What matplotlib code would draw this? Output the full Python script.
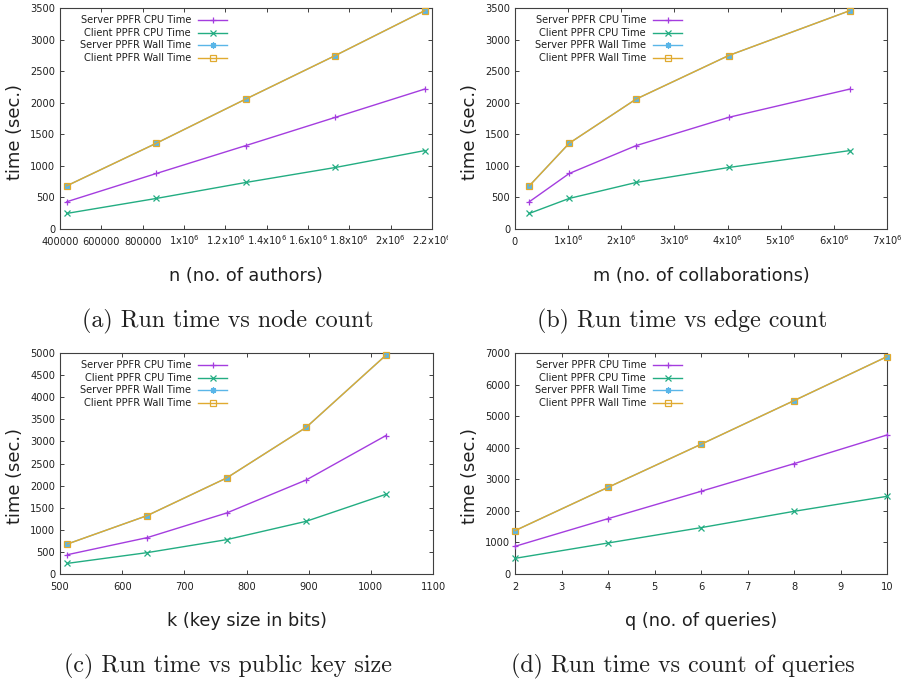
import numpy as np
import matplotlib
matplotlib.use('Agg')
import matplotlib.pyplot as plt
from matplotlib.transforms import Bbox

# ── Measured run times (sec.) ──
n_authors = [433000, 866000, 1299000, 1732000, 2165000]
m_collab = [270000, 1020000, 2280000, 4020000, 6300000]
k_bits = [512, 640, 768, 896, 1024]
q_queries = [2, 4, 6, 8, 10]

# sweeps over n and m share the same runs
srv_cpu_nm = [432, 879, 1321, 1768, 2216]
cli_cpu_nm = [247, 484, 737, 974, 1242]
srv_wall_nm = [684, 1358, 2058, 2747, 3458]
cli_wall_nm = [684, 1358, 2058, 2747, 3458]

srv_cpu_k = [437, 822, 1380, 2127, 3130]
cli_cpu_k = [241, 483, 777, 1192, 1802]
srv_wall_k = [679, 1320, 2172, 3318, 4947]
cli_wall_k = [679, 1320, 2172, 3318, 4947]

srv_cpu_q = [876, 1753, 2619, 3495, 4403]
cli_cpu_q = [496, 982, 1468, 1985, 2460]
srv_wall_q = [1373, 2745, 4108, 5491, 6885]
cli_wall_q = [1373, 2745, 4108, 5491, 6885]

series_names = ['Server PPFR CPU Time', 'Client PPFR CPU Time',
                'Server PPFR Wall Time', 'Client PPFR Wall Time']
colors = ['#a43ddf', '#23ad82', '#5ab6e8', '#e0aa30']
markers = ['+', 'x', (8, 2, 0), 's']

W, H = 905, 682
fig = plt.figure(figsize=(W / 100, H / 100), dpi=100)

def px_axes(l, t, r, b):
    return fig.add_axes([l / W, 1 - b / H, (r - l) / W, (b - t) / H])

def sci(v):
    if v >= 1e6:
        return r'%sx10$^{6}$' % ('%g' % (v / 1e6))
    return '%d' % v

TICK_FS = 7.1
TXT = '#202020'

def marker_kw(c, mk):
    return dict(marker=mk, ms=4.4 if mk != 's' else 3.8, mew=0.9,
                mfc='none' if mk == 's' else c, mec=c)

def draw_panel(ax, x, ys, xticks, xlabels, yticks, xlim, ylim):
    for y, c, mk in zip(ys, colors, markers):
        ax.plot(x, y, color=c, lw=1.0, clip_on=False, zorder=3, **marker_kw(c, mk))
    ax.set_xlim(*xlim)
    ax.set_ylim(*ylim)
    ax.set_xticks(xticks, xlabels)
    ax.set_yticks(yticks)
    ax.tick_params(direction='in', length=3, width=0.7, colors='#404040',
                   labelcolor=TXT, labelsize=TICK_FS, top=True, right=True)
    ax.tick_params(axis='x', pad=11.8)
    ax.tick_params(axis='y', pad=3.4)
    for t in ax.get_xticklabels():
        t.set_va('baseline')
    for s in ax.spines.values():
        s.set_color('#404040')
        s.set_linewidth(0.8)
    # key: right-justified text with sample to its right
    for i, (name, c, mk) in enumerate(zip(series_names, colors, markers)):
        yy = 0.946 - i * 0.0575
        ax.text(0.352, yy, name, transform=ax.transAxes, ha='right', va='center',
                fontsize=TICK_FS, color=TXT)
        ax.plot([0.371, 0.449], [yy, yy], color=c, lw=1.0, transform=ax.transAxes)
        ax.plot([0.41], [yy], color=c, transform=ax.transAxes, **marker_kw(c, mk))

panels = [
    (60, 8, 432, 229, n_authors, [srv_cpu_nm, cli_cpu_nm, srv_wall_nm, cli_wall_nm],
     np.arange(400000, 2200001, 200000), (400000, 2200000),
     np.arange(0, 3501, 500), (0, 3500),
     'n (no. of authors)', '(a) Run time vs node count', 0),
    (515, 8, 887, 229, m_collab, [srv_cpu_nm, cli_cpu_nm, srv_wall_nm, cli_wall_nm],
     np.arange(0, 7000001, 1000000), (0, 7000000),
     np.arange(0, 3501, 500), (0, 3500),
     'm (no. of collaborations)', '(b) Run time vs edge count', 455),
    (60, 353, 433, 574, k_bits, [srv_cpu_k, cli_cpu_k, srv_wall_k, cli_wall_k],
     np.arange(500, 1101, 100), (500, 1100),
     np.arange(0, 5001, 500), (0, 5000),
     'k (key size in bits)', '(c) Run time vs public key size', 0),
    (515, 353, 887, 574, q_queries, [srv_cpu_q, cli_cpu_q, srv_wall_q, cli_wall_q],
     np.arange(2, 11, 1), (2, 10),
     np.arange(0, 7001, 1000), (0, 7000),
     'q (no. of queries)', '(d) Run time vs count of queries', 455),
]

for l, t, r, b, x, ys, xt, xl, yt, yl, xlab, cap, off in panels:
    ax = px_axes(l, t, r, b)
    draw_panel(ax, x, ys, xt, [sci(v) for v in xt], yt, xl, yl)
    cx = (l + r) / 2
    fig.text(cx / W, 1 - (b + 47) / H, xlab, ha='center', va='center',
             fontsize=12.7, color=TXT)
    fig.text((off + 15) / W, 1 - ((t + b) / 2 + 13) / H, 'time (sec.)',
             rotation=90, ha='center', va='center', fontsize=12.9, color=TXT)
    fig.text((off + 227.5) / W, 1 - (b + 92.5) / H, cap, ha='center', va='center',
             fontsize=17.3, family='cmr10', color=TXT)
    if off == 0 and t < 100:
        # the subfigure is cropped at its right border
        clip = Bbox.from_extents(0, 0, 448, H)
        for lab in ax.get_xticklabels():
            lab.set_clip_box(clip)
            lab.set_clip_on(True)

fig.savefig('out.png', dpi=100)
